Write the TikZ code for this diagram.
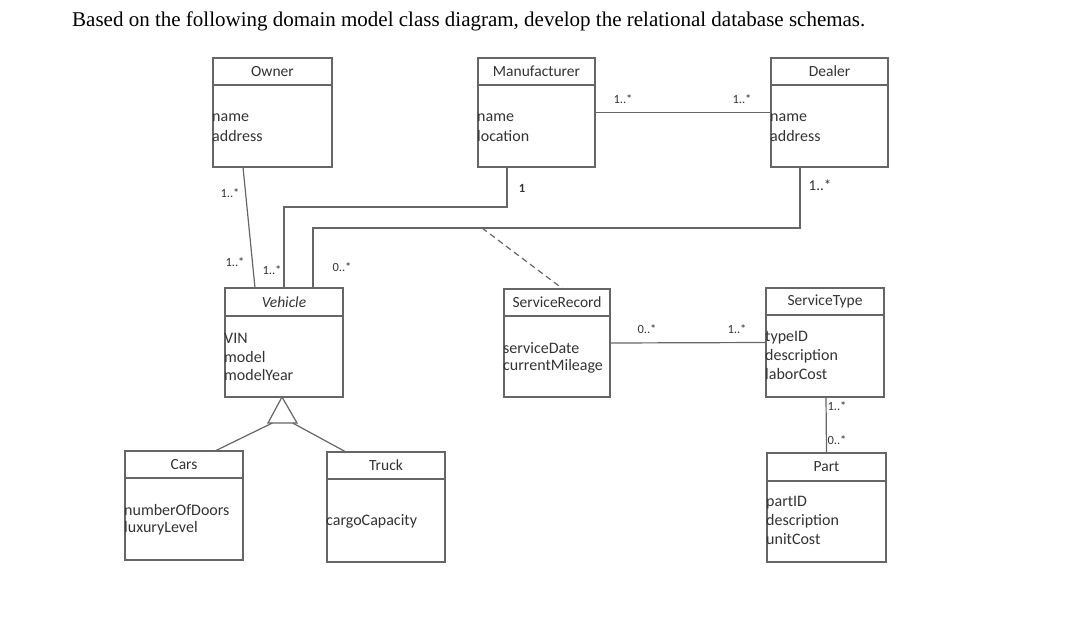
\documentclass[tikz,border=0pt]{standalone}
\usepackage{fontspec}
\setmainfont{Liberation Serif}
\newfontfamily\boxfont{Carlito}
\usetikzlibrary{calc}
\definecolor{linec}{HTML}{666666}
\definecolor{textc}{HTML}{333333}
\tikzset{
  box/.style={draw=linec, line width=1.2pt, inner sep=0pt, outer sep=0pt, fill=none},
  headline/.style={draw=linec, line width=1.2pt},
  head/.style={font=\boxfont\fontsize{15.5}{17}\selectfont, text=textc, inner sep=0pt},
  attr/.style={font=\boxfont\fontsize{16}{18}\selectfont, text=textc, inner sep=0pt, anchor=west},
  mult/.style={font=\boxfont\fontsize{12.5}{14}\selectfont, text=textc, inner sep=0pt},
  conn/.style={draw=linec, line width=1.2pt},
  title/.style={font=\fontsize{21}{24}\selectfont, text=black, inner sep=0pt, anchor=base west}
}
\newcommand\classbox[7]{%
  \node[box, minimum width={#4-#2}, minimum height={#6-#3}] (#1) at ({(#2+#4)/2},{(#3+#6)/2}) {};
  \draw[headline] (#2,#5) -- (#4,#5);
  \node[head] (#1-t) at ({(#2+#4)/2},{(#3+#5)/2}) {#7};
}
\begin{document}
\begin{tikzpicture}[x=1pt,y=-1pt]
\useasboundingbox (0,0) rectangle (1071,618);

\node[title] (ttl) at (72,27) {Based on the following domain model class diagram, develop the relational database schemas.};

% classes
\classbox{owner}{213}{58}{332}{85}{167}{Owner}
\node[attr] (ow1) at (212,118) {name};
\node[attr] (ow2) at (212,136) {address};

\classbox{manu}{478}{58}{595}{85}{167}{Manufacturer}
\node[attr] (mf1) at (477,118) {name};
\node[attr] (mf2) at (477,136) {location};

\classbox{dealer}{771}{58}{888}{85}{167}{Dealer}
\node[attr] (dl1) at (770,118) {name};
\node[attr] (dl2) at (770,136) {address};

\classbox{vehicle}{225}{288}{343}{316}{397}{\itshape Vehicle}
\node[attr] (vh1) at (224,338) {VIN};
\node[attr] (vh2) at (224,357) {model};
\node[attr] (vh3) at (224,375) {modelYear};

\classbox{srec}{504}{289}{610}{316}{397}{ServiceRecord}
\node[attr] (sr1) at (503,348) {serviceDate};
\node[attr] (sr2) at (503,366) {currentMileage};

\classbox{stype}{766}{288}{884}{315}{397}{ServiceType}
\node[attr] (st1) at (765,338) {typeID};
\node[attr] (st2) at (765,356) {description};
\node[attr] (st3) at (765,374) {laborCost};

\classbox{cars}{125}{451}{243}{478}{560}{Cars}
\node[attr] (cr1) at (124,510) {numberOfDoors};
\node[attr] (cr2) at (124,528) {luxuryLevel};

\classbox{truck}{327}{452}{445}{479}{562}{Truck}
\node[attr] (tr1) at (326,521) {cargoCapacity};

\classbox{part}{767}{453}{886}{481}{562}{Part}
\node[attr] (pt1) at (766,503) {partID};
\node[attr] (pt2) at (766,521) {description};
\node[attr] (pt3) at (766,539) {unitCost};

% bend coordinates
\coordinate (bendM) at (284,207);
\coordinate (bendD) at (313,228);
\coordinate (dashS) at (482,228);

% connectors
\draw[conn] ([xshift=-29.5]owner.south) -- ([xshift=-29]vehicle.north);
\draw[conn] ([xshift=-29.5]manu.south) |- (bendM) -- (vehicle.north -| bendM);
\draw[conn] ([xshift=-29.5]dealer.south) |- (bendD) -- (vehicle.north -| bendD);
\draw[conn, dashed, dash pattern=on 6pt off 4pt] (dashS) -- ([xshift=6]srec.north);
\draw[conn] (manu.east) -- (dealer.west);
\draw[conn] (srec.east) -- (stype.west);
\draw[conn] ([xshift=1]stype.south) -- (part.north);

% generalization
\coordinate (triA) at ([xshift=-2]vehicle.south);
\coordinate (triL) at ([shift={(-16,26)}]vehicle.south);
\coordinate (triR) at ([shift={(13,26)}]vehicle.south);
\draw[conn, fill=white] (triA) -- (triL) -- (triR) -- cycle;
\draw[conn] ($(triL)!0.15!(triR)$) -- ([xshift=31]cars.north);
\draw[conn] ($(triL)!0.85!(triR)$) -- ([xshift=-40]truck.north);

% multiplicities
\node[mult] (m1) at (230,193) {1..*};
\node[mult] (m2) at (235,262) {1..*};
\node[mult] (m3) at (272,270) {1..*};
\node[mult] (m4) at (342,267) {0..*};
\node[mult, font=\boxfont\bfseries\fontsize{12.5}{14}\selectfont] (m5) at (522,188) {1};
\node[mult] (m6) at (623,99) {1..*};
\node[mult] (m7) at (742,99) {1..*};
\node[mult, font=\boxfont\fontsize{15}{16}\selectfont] (m8) at (820,185) {1..*};
\node[mult] (m9) at (647,329) {0..*};
\node[mult] (m10) at (737,329) {1..*};
\node[mult] (m11) at (837,406) {1..*};
\node[mult] (m12) at (837,440) {0..*};
\end{tikzpicture}
\end{document}
